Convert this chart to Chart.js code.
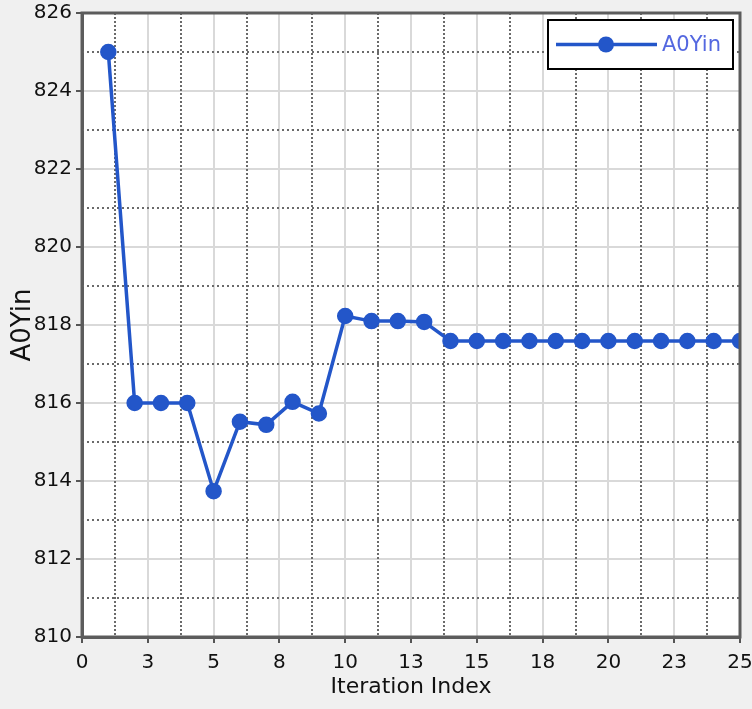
<!DOCTYPE html>
<html>
<head>
<meta charset="utf-8">
<script src="https://cdn.jsdelivr.net/npm/chart.js@4"></script>
<style>
  html, body { margin: 0; padding: 0; background: #f0f0f0; }
  canvas { display: block; }
</style>
</head>
<body>
<canvas id="chart" width="752" height="709"></canvas>
<script>
// data
const iterations = [1, 2, 3, 4, 5, 6, 7, 8, 9, 10, 11, 12, 13,
                    14, 15, 16, 17, 18, 19, 20, 21, 22, 23, 24, 25];
const a0yin = [825.0, 816.0, 816.0, 816.0, 813.74, 815.52, 815.44, 816.03, 815.73,
               818.23, 818.1, 818.1, 818.08,
               817.59, 817.59, 817.59, 817.59, 817.59, 817.59,
               817.59, 817.59, 817.59, 817.59, 817.59, 817.59];
const seriesName = 'A0Yin';
const xTitle = 'Iteration Index';
const yTitle = 'A0Yin';
const xRange = [0, 25];
const yRange = [810, 826];

const lineColor = '#2356c9';
const fontFamily = '"DejaVu Sans", sans-serif';

function isMajorX(v) { return Math.abs(v / 2.5 - Math.round(v / 2.5)) < 1e-6; }
function isMajorY(v) { return Math.round(v) % 2 === 0; }

// white plot area on grey figure
const plotBackground = {
  id: 'plotBackground',
  beforeDraw(chart) {
    const {ctx, chartArea: a} = chart;
    ctx.save();
    ctx.fillStyle = '#ffffff';
    ctx.fillRect(a.left, a.top, a.width, a.height);
    ctx.restore();
  }
};

// dotted minor grid lines between the solid ones
const minorGrid = {
  id: 'minorGrid',
  beforeDatasetsDraw(chart) {
    const {ctx, chartArea: a, scales: {x, y}} = chart;
    ctx.save();
    ctx.strokeStyle = '#6a6a6a';
    ctx.lineWidth = 2;
    ctx.setLineDash([2, 2]);
    x.ticks.forEach(t => {
      if (isMajorX(t.value)) return;
      const px = Math.round(x.getPixelForValue(t.value));
      ctx.beginPath();
      ctx.moveTo(px, a.top);
      ctx.lineTo(px, a.bottom);
      ctx.stroke();
    });
    ctx.setLineDash([2, 3]);
    y.ticks.forEach(t => {
      if (isMajorY(t.value)) return;
      const py = Math.round(y.getPixelForValue(t.value));
      ctx.beginPath();
      ctx.moveTo(a.left, py);
      ctx.lineTo(a.right, py);
      ctx.stroke();
    });
    ctx.restore();
  }
};

// dark frame round the plot, drawn over the data
const frame = {
  id: 'frame',
  afterDatasetsDraw(chart) {
    const {ctx, chartArea: a} = chart;
    ctx.save();
    ctx.strokeStyle = '#5c5c5c';
    ctx.lineWidth = 3;
    ctx.strokeRect(a.left, a.top, a.width, a.height);
    ctx.restore();
  }
};

// boxed legend at top right: line + marker + name
const boxLegend = {
  id: 'boxLegend',
  afterDraw(chart) {
    const {ctx, chartArea: a} = chart;
    const ds = chart.data.datasets[0];
    const w = 185, h = 49;
    const bx = a.right - 7 - w, by = a.top + 7;
    const cy = by + h / 2;
    ctx.save();
    ctx.fillStyle = '#ffffff';
    ctx.fillRect(bx, by, w, h);
    ctx.strokeStyle = '#000000';
    ctx.lineWidth = 2;
    ctx.strokeRect(bx, by, w, h);
    ctx.strokeStyle = ds.borderColor;
    ctx.lineWidth = 3.5;
    ctx.beginPath();
    ctx.moveTo(bx + 8, cy);
    ctx.lineTo(bx + 109, cy);
    ctx.stroke();
    ctx.fillStyle = ds.borderColor;
    ctx.beginPath();
    ctx.arc(bx + 58, cy, 8, 0, Math.PI * 2);
    ctx.fill();
    ctx.fillStyle = '#5468e0';
    ctx.font = '21px ' + fontFamily;
    ctx.textBaseline = 'middle';
    ctx.textAlign = 'left';
    ctx.fillText(ds.label, bx + 114, cy + 1);
    ctx.restore();
  }
};

new Chart(document.getElementById('chart'), {
  type: 'line',
  data: {
    datasets: [{
      label: seriesName,
      data: iterations.map((it, i) => ({x: it, y: a0yin[i]})),
      borderColor: lineColor,
      backgroundColor: lineColor,
      borderWidth: 3.5,
      pointRadius: 7.5,
      pointBorderWidth: 1.5,
      pointBackgroundColor: lineColor,
      pointBorderColor: lineColor,
      tension: 0,
      clip: 0
    }]
  },
  options: {
    responsive: false,
    animation: false,
    layout: { padding: { left: 0, right: 12, top: 13, bottom: 0 } },
    plugins: {
      legend: { display: false },
      tooltip: { enabled: false }
    },
    scales: {
      x: {
        type: 'linear',
        min: xRange[0],
        max: xRange[1],
        afterFit(scale) {
          scale.height = 72;
          scale.paddingLeft = 0;
          scale.paddingRight = 0;
        },
        border: { color: '#5c5c5c', width: 3 },
        grid: {
          color: c => (c.tick && isMajorX(c.tick.value)) ? '#d9d9d9' : 'rgba(0,0,0,0)',
          lineWidth: 2,
          tickLength: 6,
          tickWidth: 2,
          tickColor: c => (c.tick && isMajorX(c.tick.value)) ? '#555555' : 'rgba(0,0,0,0)'
        },
        ticks: {
          stepSize: 1.25,
          autoSkip: false,
          maxRotation: 0,
          padding: 8,
          color: '#111111',
          font: { family: fontFamily, size: 20 },
          callback: v => isMajorX(v) ? String(Math.round(v)) : ''
        },
        title: {
          display: true,
          text: xTitle,
          color: '#111111',
          font: { family: fontFamily, size: 22 },
          padding: { top: 0, bottom: 9 }
        }
      },
      y: {
        type: 'linear',
        min: yRange[0],
        max: yRange[1],
        afterFit(scale) {
          scale.width = 82;
          scale.paddingTop = 0;
          scale.paddingBottom = 0;
        },
        border: { color: '#5c5c5c', width: 3 },
        grid: {
          color: c => (c.tick && isMajorY(c.tick.value)) ? '#d9d9d9' : 'rgba(0,0,0,0)',
          lineWidth: 2,
          tickLength: 6,
          tickWidth: 2,
          tickColor: c => (c.tick && isMajorY(c.tick.value)) ? '#555555' : 'rgba(0,0,0,0)'
        },
        ticks: {
          stepSize: 1,
          autoSkip: false,
          padding: 4,
          color: '#111111',
          font: { family: fontFamily, size: 20 },
          callback: v => isMajorY(v) ? String(v) : ''
        },
        title: {
          display: true,
          text: yTitle,
          color: '#111111',
          font: { family: fontFamily, size: 26 },
          padding: { top: 8, bottom: 0 }
        }
      }
    }
  },
  plugins: [plotBackground, minorGrid, frame, boxLegend]
});
</script>
</body>
</html>
